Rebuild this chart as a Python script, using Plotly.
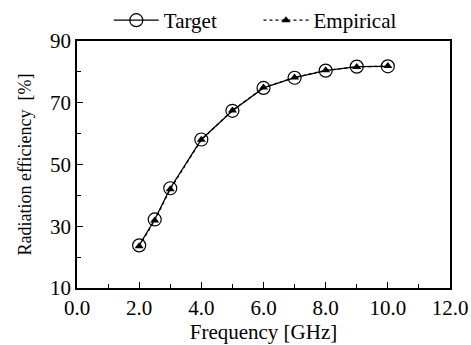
import plotly.graph_objects as go

freq = [2.0, 2.5, 3.0, 4.0, 5.0, 6.0, 7.0, 8.0, 9.0, 10.0]
target = [23.8, 32.2, 42.3, 58.1, 67.4, 74.8, 78.1, 80.4, 81.7, 81.8]
empirical = [23.5, 31.9, 42.0, 58.0, 67.5, 74.9, 78.2, 80.5, 81.6, 81.9]

FONT = "Liberation Serif, Times New Roman, serif"
FS = 21

fig = go.Figure()
fig.add_trace(go.Scatter(
    x=freq, y=target, name="Target" + "\u00a0" * 7, mode="lines+markers",
    line=dict(color="black", width=1.3),
    marker=dict(symbol="circle-open", size=13, color="black", line=dict(width=1.2)),
))
fig.add_trace(go.Scatter(
    x=freq, y=empirical, name="Empirical", mode="lines+markers",
    line=dict(color="black", width=1.3, dash="dot"),
    marker=dict(symbol="triangle-up", size=8, color="black"),
))

axis_common = dict(
    showline=True, linecolor="black", linewidth=1.5, mirror=True,
    ticks="inside", ticklen=6, tickwidth=1.2, tickcolor="black",
    showgrid=False, zeroline=False,
    tickfont=dict(family=FONT, size=FS, color="black"),
    automargin=False,
)
fig.update_xaxes(
    range=[0, 12], dtick=2, tickformat=".1f",
    minor=dict(dtick=1, ticks="inside", ticklen=4, tickcolor="black", tickwidth=1),
    title=dict(text="Frequency [GHz]", font=dict(family=FONT, size=FS, color="black"), standoff=4),
    **axis_common,
)
fig.update_yaxes(
    range=[10, 90], tick0=10, dtick=20,
    minor=dict(dtick=10, ticks="inside", ticklen=4, tickcolor="black", tickwidth=1),
    title=dict(text="Radiation efficiency  [%]", font=dict(family=FONT, size=18, color="black"), standoff=14),
    **axis_common,
)
fig.update_layout(
    width=471, height=345,
    margin=dict(l=77, r=21, t=37, b=57),
    paper_bgcolor="white", plot_bgcolor="white",
    font=dict(family=FONT, size=FS, color="black"),
    legend=dict(orientation="h", x=0.478, xanchor="center", xref="paper",
                y=1.0, yanchor="top", yref="container",
                font=dict(family=FONT, size=FS, color="black"), bgcolor="rgba(0,0,0,0)",
                itemwidth=45, tracegroupgap=0),
    showlegend=True,
)
fig.write_html("out.html")
